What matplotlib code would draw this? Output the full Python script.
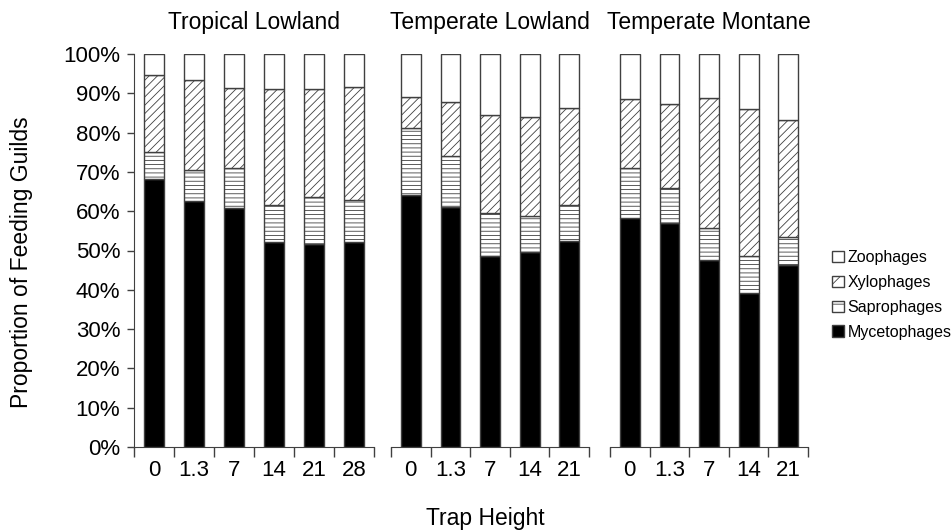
import numpy as np
import matplotlib.pyplot as plt
from matplotlib.patches import Patch

plt.rcParams['font.family'] = ['Liberation Sans', 'DejaVu Sans']
plt.rcParams['hatch.linewidth'] = 0.6

# Proportions (%), per region, per trap height
regions = ["Tropical Lowland", "Temperate Lowland", "Temperate Montane"]
heights = [["0", "1.3", "7", "14", "21", "28"],
           ["0", "1.3", "7", "14", "21"],
           ["0", "1.3", "7", "14", "21"]]

mycetophages = [[68.2, 62.6, 60.7, 52.1, 51.7, 52.1],
                [64.1, 61.1, 48.7, 49.7, 52.5],
                [58.3, 56.9, 47.6, 39.1, 46.2]]
saprophages = [[6.9, 7.9, 10.2, 9.5, 12.0, 10.7],
               [17.0, 12.9, 10.8, 9.1, 9.1],
               [12.6, 8.9, 8.0, 9.5, 7.3]]
xylophages = [[19.6, 22.9, 20.4, 29.4, 27.5, 28.8],
              [8.0, 13.9, 25.0, 25.1, 24.6],
              [17.6, 21.5, 33.3, 37.4, 29.7]]
zoophages = [[5.3, 6.6, 8.7, 9.0, 8.8, 8.4],
             [10.9, 12.1, 15.5, 16.1, 13.8],
             [11.5, 12.7, 11.1, 14.0, 16.8]]

guilds = ["Mycetophages", "Saprophages", "Xylophages", "Zoophages"]
faces = ["black", "white", "white", "white"]
hatches = [None, "----", "////", None]
legend_hatches = [None, "--", "//", None]
edge = "#404040"

fig = plt.figure(figsize=(9.52, 5.32), dpi=100)
bottom = 1 - 447 / 532
height = (447 - 54) / 532
lefts = [134 / 952, 391 / 952, 610 / 952]
widths = [240 / 952, 198 / 952, 198 / 952]

for i, reg in enumerate(regions):
    ax = fig.add_axes([lefts[i], bottom, widths[i], height])
    n = len(heights[i])
    x = np.arange(n)
    base = np.zeros(n)
    series = [mycetophages[i], saprophages[i], xylophages[i], zoophages[i]]
    for vals, fc, ht in zip(series, faces, hatches):
        v = np.array(vals) / 100
        ax.bar(x, v, bottom=base, width=0.5, color=fc, edgecolor=edge,
               linewidth=1, hatch=ht)
        base += v
    ax.set_xlim(-0.5, n - 0.5)
    ax.set_ylim(0, 1)
    ax.set_title(reg, fontsize=16.5, pad=18)
    ax.set_xticks(x)
    ax.set_xticklabels(heights[i], fontsize=16)
    ax.set_xticks(np.arange(n + 1) - 0.5, minor=True)
    ax.tick_params(axis='x', which='major', length=0, pad=9)
    ax.tick_params(axis='x', which='minor', length=7, width=1, color=edge,
                   direction='out')
    ax.spines['top'].set_visible(False)
    ax.spines['right'].set_visible(False)
    ax.spines['bottom'].set_color(edge)
    if i == 0:
        yt = np.arange(0, 1.01, 0.1)
        ax.set_yticks(yt)
        ax.set_yticklabels([f"{int(round(t * 100))}%" for t in yt], fontsize=16)
        ax.tick_params(axis='y', length=5, width=1, color=edge, pad=5)
        ax.spines['left'].set_color(edge)
    else:
        ax.spines['left'].set_visible(False)
        ax.set_yticks([])

fig.text(485 / 952, 1 - 518 / 532, "Trap Height", fontsize=16.5,
         ha='center', va='center')
fig.text(22 / 952, 1 - 262 / 532, "Proportion of Feeding Guilds", fontsize=16.5,
         ha='center', va='center', rotation=90)

handles = [Patch(facecolor=fc, edgecolor=edge, hatch=hh, label=g)
           for g, fc, hh in zip(guilds, faces, legend_hatches)]
fig.legend(handles=handles[::-1], loc='center left',
           bbox_to_anchor=(821 / 952, 1 - 295 / 532), frameon=False,
           fontsize=11.5, handlelength=0.75, handleheight=0.75,
           handletextpad=0.2, labelspacing=0.62, borderpad=0.2)

fig.savefig("out.png", dpi=100)
